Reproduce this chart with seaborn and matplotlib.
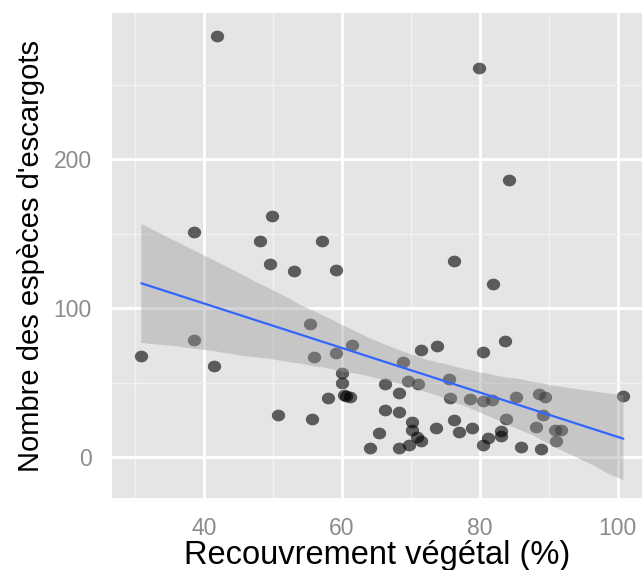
import numpy as np
import pandas as pd
import matplotlib
matplotlib.use("Agg")
import matplotlib.pyplot as plt
from matplotlib.path import Path
from matplotlib.collections import PolyCollection
import seaborn as sns

# ---- data ----
recouvrement = [30.9, 38.5, 38.6, 41.5, 41.8, 48.1, 49.6, 49.8, 50.7, 53.0,
                55.4, 55.7, 55.9, 57.1, 58.0, 59.1, 59.1, 60.0, 60.0, 60.3,
                60.6, 61.1, 61.5, 64.0, 65.4, 66.2, 66.3, 68.3, 68.3, 68.3,
                68.9, 69.5, 69.7, 70.1, 70.1, 70.8, 71.0, 71.5, 71.5, 73.6,
                73.8, 75.5, 75.7, 76.2, 76.3, 76.9, 78.5, 78.8, 79.8, 80.5,
                80.5, 80.5, 81.2, 81.7, 81.9, 83.0, 83.1, 83.6, 83.8, 84.2,
                85.3, 86.0, 88.1, 88.6, 88.8, 89.2, 89.4, 90.9, 91.1, 91.8,
                100.8]
especes = [67.8, 151, 78.7, 61.5, 283, 145, 130, 162, 28.4, 125,
           89.5, 26, 67, 145, 40, 125.7, 69.8, 56.8, 50, 42,
           41, 40.7, 75.4, 6.3, 16.5, 49, 31.6, 43, 30.6, 6,
           63.8, 51.5, 8.3, 23.8, 18.2, 13.8, 49.2, 10.7, 72.3, 20,
           75, 52.3, 40, 132, 24.8, 17.1, 39.2, 19.5, 261, 71,
           37.5, 8.6, 12.7, 38.7, 116, 17.7, 14.3, 78, 26, 186,
           40.7, 6.8, 20.3, 42.5, 5.5, 28.5, 40.6, 18.3, 10.8, 18.3,
           41]
x_ticks = [40, 60, 80, 100]
y_ticks = [0, 100, 200]
x_minor = [30, 50, 70, 90]
y_minor = [50, 150, 250]
x_title = "Recouvrement végétal (%)"
y_title = "Nombre des espèces d'escargots"

df = pd.DataFrame({"x": recouvrement, "y": especes})

sns.set_theme(style="white")
plt.rcParams["font.family"] = ["Liberation Sans", "DejaVu Sans"]

fig = plt.figure(figsize=(6.42, 5.70), dpi=100)
ax = fig.add_axes([111.7 / 642, 1 - 498 / 570, 1 - 111.7 / 642, (498 - 13.3) / 570])
ax.set_facecolor("#E5E5E5")
for s in ax.spines.values():
    s.set_visible(False)

# slightly flattened circle marker (the reference is stretched horizontally)
theta = np.linspace(0, 2 * np.pi, 64)
ell = Path(np.column_stack([np.cos(theta), 0.88 * np.sin(theta)]), closed=True)

sns.scatterplot(data=df, x="x", y="y", ax=ax, marker=ell, s=92,
                color="black", alpha=0.6, linewidth=0, zorder=3)
sns.regplot(data=df, x="x", y="y", ax=ax, scatter=False, ci=95, n_boot=1000,
            seed=1, truncate=True, color="#3366FF",
            line_kws={"linewidth": 1.6, "zorder": 5})
for c in ax.collections:
    if isinstance(c, PolyCollection):
        c.set_alpha(None)
        c.set_facecolor((0.6, 0.6, 0.6, 0.4))
        c.set_edgecolor("none")
        c.set_zorder(4)

ax.set_xlim(26.6, 103.5)
ax.set_ylim(-27.3, 298)
ax.set_xticks(x_ticks)
ax.set_yticks(y_ticks)
ax.set_xticks(x_minor, minor=True)
ax.set_yticks(y_minor, minor=True)
ax.grid(True, which="major", color="white", linewidth=2.0)
ax.grid(True, which="minor", color="#F2F2F2", linewidth=1.0)
ax.set_axisbelow(True)
ax.tick_params(axis="both", which="major", width=1.6, color="#8C8C8C",
               labelcolor="#8C8C8C", labelsize=16.5)
ax.tick_params(axis="x", which="major", length=9, pad=5)
ax.tick_params(axis="y", which="major", length=10, pad=4.3)
ax.tick_params(axis="both", which="minor", length=0)
ax.set_xlabel(x_title, fontsize=23.5, color="black", labelpad=0)
ax.set_ylabel(y_title, fontsize=21, color="black", labelpad=6)

fig.savefig("out.png", dpi=100, facecolor="white")
